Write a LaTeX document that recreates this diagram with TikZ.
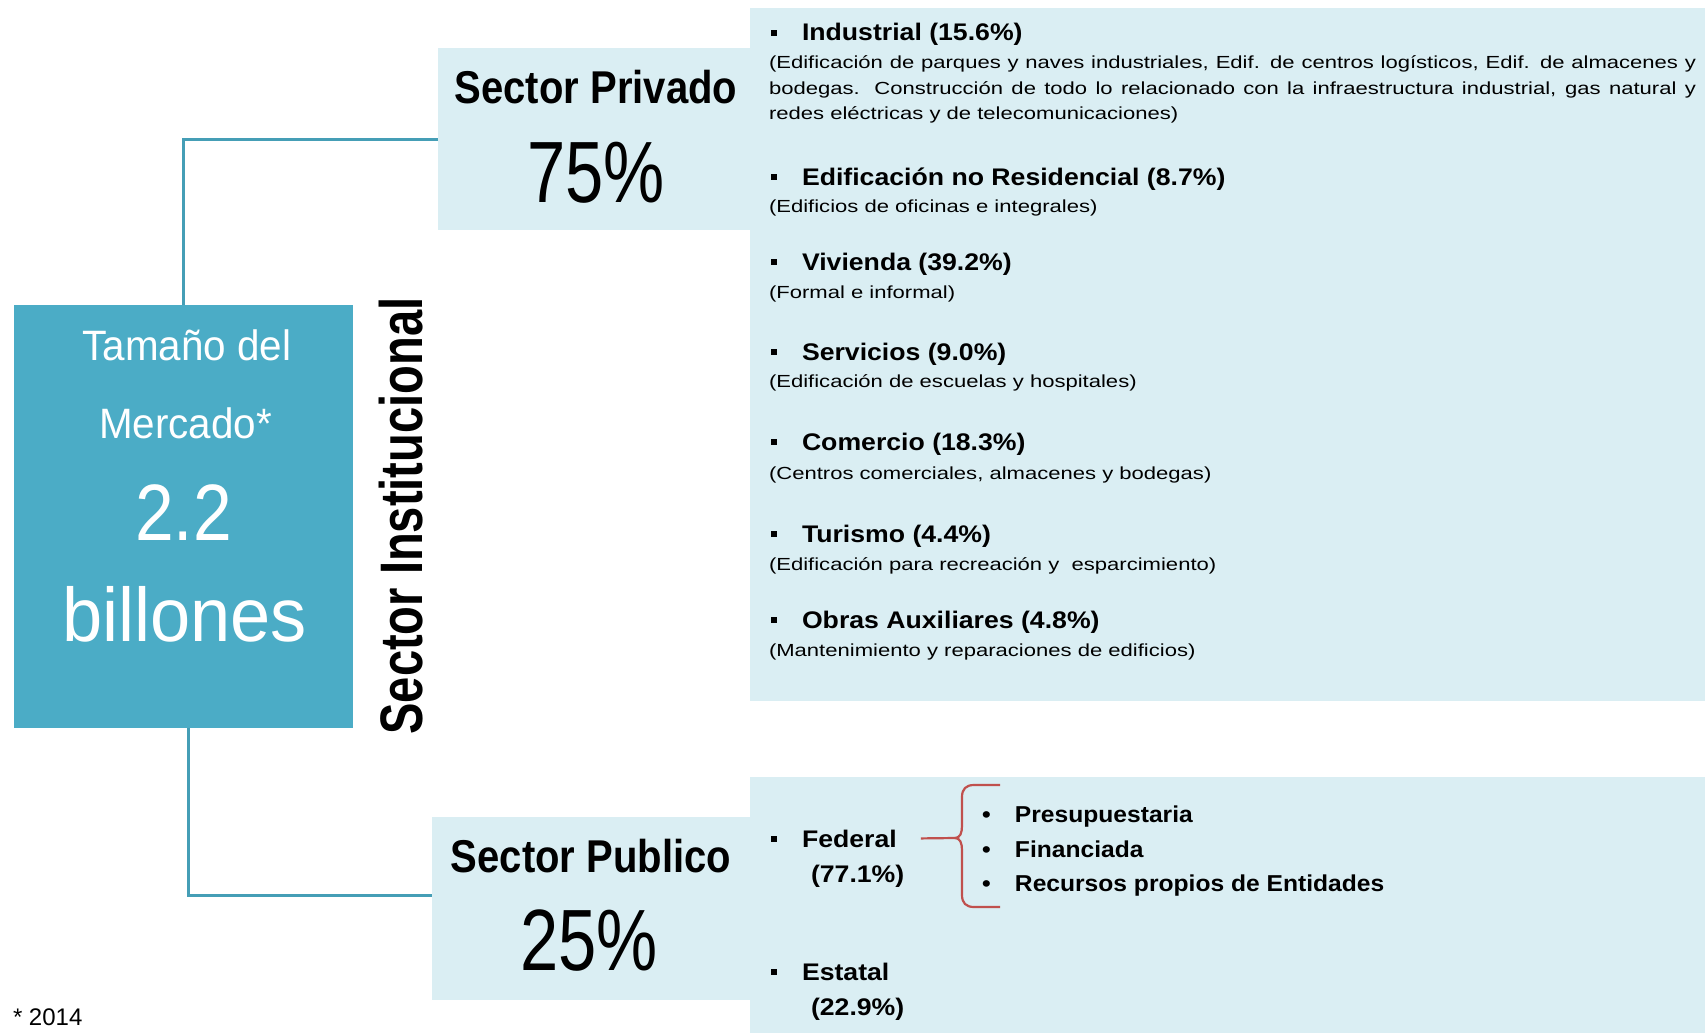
\documentclass[tikz,border=0pt]{standalone}
\usepackage{fontspec}
\setmainfont{Liberation Sans}
\newfontfamily\fSec{Liberation Sans}[FakeStretch=0.87]
\newfontfamily\fPct{Liberation Sans}[FakeStretch=0.79]
\newfontfamily\fInst{Liberation Sans}[FakeStretch=0.785]
\newfontfamily\fBox{Liberation Sans}[FakeStretch=0.95]
\newfontfamily\fBoxN{Liberation Sans}[FakeStretch=0.87]
\newfontfamily\fHead{Liberation Sans}[FakeStretch=1.11]
\newfontfamily\fSub{Liberation Sans}[FakeStretch=1.07]
\newfontfamily\fDesc{Liberation Sans}[FakeStretch=1.26]
\definecolor{teal5}{HTML}{4BACC6}
\definecolor{light5}{HTML}{DAEEF3}
\definecolor{red2}{HTML}{C0504D}
\newcommand{\setfs}[1]{\fontsize{#1pt}{#1pt}\selectfont}
\newcommand{\sqb}{\makebox[31pt][l]{\rule[5pt]{6pt}{6pt}}}
\newcommand{\rdb}{\makebox[33pt][l]{•}}
\begin{document}
\begin{tikzpicture}[x=1pt,y=-1pt,
  txt/.style={inner sep=0pt, outer sep=0pt},
  wtxt/.style={txt, text=white},
  panel/.style={fill=light5, inner sep=0pt, outer sep=0pt, anchor=north west},
  tealbox/.style={fill=teal5, inner sep=0pt, outer sep=0pt, anchor=north west},
  conn/.style={draw=teal5!92!black, line width=3pt},
  brace/.style={draw=red2, line width=2.2pt, line join=round},
  head/.style={txt, anchor=base west, font=\fHead\bfseries\setfs{24}},
  desc/.style={txt, anchor=base west, font=\fDesc\setfs{17.5}},
  sub/.style={txt, anchor=base west, font=\fSub\bfseries\setfs{23}}]
\useasboundingbox (0,0) rectangle (1705,1033);

% panels and boxes
\node[panel, minimum width=955pt, minimum height=693pt] (privpanel) at (750,8) {};
\node[panel, minimum width=312pt, minimum height=182pt] (priv) at (438,48) {};
\node[panel, minimum width=955pt, minimum height=256pt] (pubpanel) at (750,777) {};
\node[panel, minimum width=318pt, minimum height=183pt] (pub) at (432,817) {};
\node[tealbox, minimum width=339pt, minimum height=423pt] (teal) at (14,305) {};

% connectors
\draw[conn] (teal.north) |- (priv.west);
\draw[conn] ([xshift=4.5pt]teal.south) |- ([yshift=13.5pt]pub.west);

% teal box text
\node[wtxt, anchor=base] (t1) at (187,360) {\fBox\setfs{42.5}Tamaño del};
\node[wtxt, anchor=base] (t2) at (185.5,438) {\fBox\setfs{42.5}Mercado*};
\node[wtxt, anchor=base] (t3) at (183.5,540) {\fBoxN\setfs{80}2.2};
\node[wtxt, anchor=base] (t4) at (184.5,641) {\fBox\setfs{76}billones};

% sector labels
\node[txt, anchor=base] (privT) at (596,103) {\fSec\bfseries\setfs{46}Sector Privado};
\node[txt, anchor=base] (privP) at (596,202) {\fPct\setfs{87}75\%};
\node[txt, anchor=base] (pubT) at (591,872) {\fSec\bfseries\setfs{46}Sector Publico};
\node[txt, anchor=base] (pubP) at (589,970) {\fPct\setfs{87}25\%};
\node[txt, anchor=base, rotate=90] (inst) at (422,516) {\fInst\bfseries\setfs{60}Sector Institucional};
\node[txt, anchor=base west] (foot) at (13,1025) {\setfs{24}* 2014};

% private list
\node[head] (h1) at (771,41) {\sqb Industrial (15.6\%)};
\node[desc] (d1a) at (769,68) {\makebox[927pt][s]{(Edificación de parques y naves industriales, Edif. de centros logísticos, Edif. de almacenes y}};
\node[desc] (d1b) at (769,95) {\makebox[927pt][s]{bodegas. Construcción de todo lo relacionado con la infraestructura industrial, gas natural y}};
\node[desc] (d1c) at (769,119) {redes eléctricas y de telecomunicaciones)};
\node[head] (h2) at (771,185) {\sqb Edificación no Residencial (8.7\%)};
\node[desc] (d2) at (769,212) {(Edificios de oficinas e integrales)};
\node[head] (h3) at (771,270) {\sqb Vivienda (39.2\%)};
\node[desc] (d3) at (769,298) {(Formal e informal)};
\node[head] (h4) at (771,360) {\sqb Servicios (9.0\%)};
\node[desc] (d4) at (769,387) {(Edificación de escuelas y hospitales)};
\node[head] (h5) at (771,450) {\sqb Comercio (18.3\%)};
\node[desc] (d5) at (769,479) {(Centros comerciales, almacenes y bodegas)};
\node[head] (h6) at (771,542) {\sqb Turismo (4.4\%)};
\node[desc] (d6) at (769,570) {(Edificación para recreación y\ \ esparcimiento)};
\node[head] (h7) at (771,628) {\sqb Obras Auxiliares (4.8\%)};
\node[desc] (d7) at (769,656) {(Mantenimiento y reparaciones de edificios)};

% public list
\node[head] (fed) at (771,847) {\sqb Federal};
\node[head] (fedp) at (811,882) {(77.1\%)};
\node[head] (est) at (771,980) {\sqb Estatal};
\node[head] (estp) at (811,1015) {(22.9\%)};
\node[sub] (s1) at (982,822) {\rdb Presupuestaria};
\node[sub] (s2) at (982,857) {\rdb Financiada};
\node[sub] (s3) at (982,891) {\rdb Recursos propios de Entidades};

% brace
\coordinate (btip) at (955,838);
\draw[brace] ([xshift=24pt]fed.east) -- (btip);
\draw[brace] (btip) .. controls (960,838) and (962,833) .. (962,826) -- (962,797) .. controls (962,789) and (966,785) .. (974,785) -- (1000,785);
\draw[brace] (btip) .. controls (960,838) and (962,843) .. (962,850) -- (962,895) .. controls (962,903) and (966,907) .. (974,907) -- (1000,907);
\end{tikzpicture}
\end{document}
